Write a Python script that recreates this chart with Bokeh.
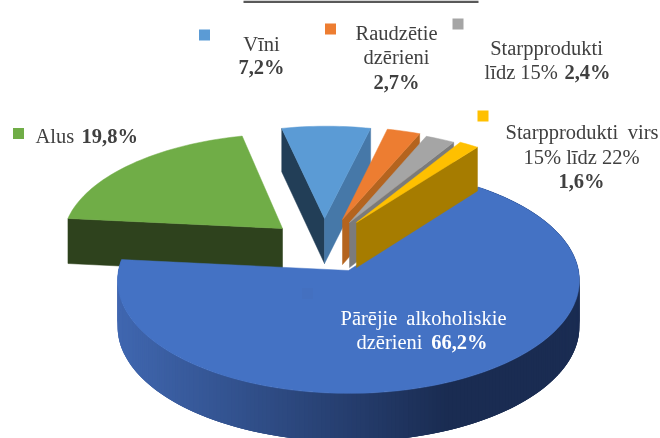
import math
from bokeh.plotting import figure
from bokeh.embed import file_html
from bokeh.resources import INLINE
from bokeh.core.properties import value

# ---- data -------------------------------------------------------------
categories = ["Vīni", "Raudzētie dzērieni", "Starpprodukti līdz 15%",
              "Starpprodukti virs 15% līdz 22%", "Pārējie alkoholiskie dzērieni", "Alus"]
shares = [7.2, 2.7, 2.4, 1.6, 66.2, 19.8]
value_labels = ["7,2%", "2,7%", "2,4%", "1,6%", "66,2%", "19,8%"]

# ---- style / layout ---------------------------------------------------
top_colors = ["#5B9BD5", "#ED7D31", "#A5A5A5", "#FFC000", "#4472C4", "#70AD47"]
wall_colors = {0: ("#223E57", "#4678A8"), 1: (None, "#B4641F"), 2: (None, "#7B7B7B"),
               3: (None, "#A67C00"), 5: ("#2E421D", None)}
key_colors = ["#5B9BD5", "#ED7D31", "#A5A5A5", "#FFC000", "#4470C0", "#70AD47"]
key_centers = [(204, 34.5), (330, 28.5), (457.5, 23.5), (482.5, 115.5), (307, 293), (18, 133)]
apex_shift = {0: (-24, -52), 1: (-6, -51), 2: (1, -48), 3: (8, -48), 4: (0, 0), 5: (-66, -42)}
APEX_X, APEX_Y = 348, 270
A, B, PERSP = 230, 112, 0.0885
DEPTH = 46
START_DEG = -13.0
TEXT = "#404040"

p = figure(width=660, height=438, x_range=(0, 660), y_range=(438, 0),
           toolbar_location=None, output_backend="svg", min_border=0,
           outline_line_color=None, background_fill_color="white",
           border_fill_color="white")
p.axis.visible = False
p.grid.visible = False
p.styles = {"position": "fixed", "left": "0", "top": "0"}


def project(u, v):
    w = 1 + PERSP * v
    return APEX_X + A * u / w, APEX_Y - B * v / w, w


def shift_plane(dx, dy):
    v = -dy / (B + dy * PERSP)
    w = 1 + PERSP * v
    return dx / A * w, v


def pt(i, deg, r=1.0):
    du, dv = shift_plane(*apex_shift[i])
    t = math.radians(deg)
    return project(du + r * math.sin(t), dv + r * math.cos(t))


def depth(w):
    return DEPTH / math.sqrt(w)


def mix(c1, c2, f):
    a = [int(c1[k:k + 2], 16) for k in (1, 3, 5)]
    b = [int(c2[k:k + 2], 16) for k in (1, 3, 5)]
    return "#%02x%02x%02x" % tuple(round(x + (y - x) * f) for x, y in zip(a, b))


def wall(i, deg, color):
    a = pt(i, deg, 0.0)
    c = pt(i, deg, RADIUS[i])
    xs = [a[0], c[0], c[0], a[0]]
    ys = [a[1], c[1], c[1] + depth(c[2]), a[1] + depth(a[2])]
    p.patch(xs, ys, fill_color=color, line_color=color, line_width=0.5)


def top(i, a0, a1):
    n = max(3, int((a1 - a0) / 1.5))
    xs, ys = [pt(i, 0, 0)[0]], [pt(i, 0, 0)[1]]
    for k in range(n + 1):
        q = pt(i, a0 + (a1 - a0) * k / n, RADIUS[i])
        xs.append(q[0])
        ys.append(q[1])
    p.patch(xs, ys, fill_color=top_colors[i], line_color=top_colors[i], line_width=0.5)


RADIUS = {0: 0.97, 1: 0.97, 2: 0.97, 3: 0.97, 4: 1.0, 5: 0.98}

# slice limits from the shares
total = sum(shares)
limits = []
acc = START_DEG
for s in shares:
    limits.append((acc, acc + s / total * 360))
    acc += s / total * 360

# blue rim, shaded; every band overlaps the next one so no seams show
a0, a1 = limits[4]
rim_x, rim_y, rim_c = [], [], []
steps = 240
for k in range(steps):
    d0 = a0 + (a1 - a0) * k / steps
    d1 = min(a1, a0 + (a1 - a0) * (k + 3) / steps)
    q0, q1 = pt(4, d0), pt(4, d1)
    rim_x.append([q0[0], q1[0], q1[0], q0[0]])
    rim_y.append([q0[1], q1[1], q1[1] + depth(q1[2]), q0[1] + depth(q0[2])])
    f = min(1.0, max(0.0, (q0[0] - 118) / 330))
    rim_c.append(mix("#4067B0", "#1A2C52", f))

# back to front
wall(5, limits[5][0], wall_colors[5][0])
top(5, *limits[5])
p.patches(rim_x, rim_y, fill_color=rim_c, line_color=None)
top(4, *limits[4])
for i in (0, 1, 2, 3):
    lo, hi = wall_colors[i]
    if lo:
        wall(i, limits[i][0], lo)
    if hi:
        wall(i, limits[i][1], hi)
    top(i, *limits[i])

# legend keys drawn as small squares
p.scatter([c[0] for c in key_centers], [c[1] for c in key_centers], marker="square",
          size=11, fill_color=key_colors, line_color=None)

# clipped title underline at the very top
p.quad(left=[243], right=[478], top=[0], bottom=[2.5], fill_color="#595959", line_color=None)

# ---- texts ------------------------------------------------------------
pieces = [
    ("Vīni", 261, 43, "center", False, TEXT),
    (value_labels[0], 261, 66.5, "center", True, TEXT),
    ("Raudzētie", 396, 32.5, "center", False, TEXT),
    ("dzērieni", 396, 56.5, "center", False, TEXT),
    (value_labels[1], 396, 81.5, "center", True, TEXT),
    ("Starpprodukti", 546, 47.5, "center", False, TEXT),
    ("līdz 15% ", 484, 71, "left", False, TEXT),
    (value_labels[2], 610, 71, "right", True, TEXT),
    ("Starpprodukti", 505, 131.5, "left", False, TEXT),
    ("virs", 658, 131.5, "right", False, TEXT),
    ("15% līdz 22%", 581, 156.5, "center", False, TEXT),
    (value_labels[3], 581, 180.5, "center", True, TEXT),
    ("Alus", 35, 135.5, "left", False, TEXT),
    (value_labels[5], 81, 135.5, "left", True, TEXT),
    ("Pārējie", 340, 317.5, "left", False, "#FFFFFF"),
    ("alkoholiskie", 506, 317.5, "right", False, "#FFFFFF"),
    ("dzērieni", 356, 341.5, "left", False, "#FFFFFF"),
    (value_labels[4], 487, 341.5, "right", True, "#FFFFFF"),
]
for txt, x, y, align, bold, col in pieces:
    p.text([x], [y], text=[txt], text_font=value("Liberation Serif"),
           text_font_size="20.5px", text_font_style="bold" if bold else "normal",
           text_align=align, text_baseline="middle", text_color=col)

open("out.html", "w").write(file_html(p, INLINE))
